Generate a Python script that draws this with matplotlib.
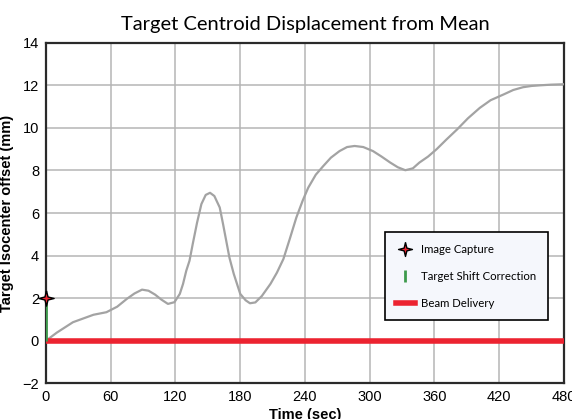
import numpy as np
import matplotlib.pyplot as plt
from matplotlib.lines import Line2D

# values
time_s = [0, 10, 25, 44, 56, 66, 75, 82, 89, 95, 101, 107, 113, 119, 124, 127, 130,
          133, 136, 140, 144, 148, 152, 156, 161, 164, 167, 170, 174, 180, 185, 189,
          194, 200, 208, 214, 220, 226, 232, 238, 243, 250, 257, 264, 272, 279, 286,
          294, 303, 311, 319, 326, 333, 340, 346, 354, 362, 371, 381, 391, 402, 412,
          424, 433, 442, 450, 458, 468, 480]
offset_mm = [0, 0.38, 0.87, 1.22, 1.34, 1.6, 1.97, 2.22, 2.40, 2.35, 2.17, 1.93, 1.73, 1.81,
             2.2, 2.67, 3.29, 3.76, 4.55, 5.55, 6.42, 6.85, 6.95, 6.8, 6.26, 5.5, 4.70,
             3.9, 3.14, 2.2, 1.9, 1.76, 1.8, 2.1, 2.67, 3.2, 3.84, 4.8, 5.79, 6.6, 7.19,
             7.8, 8.21, 8.6, 8.91, 9.1, 9.15, 9.1, 8.91, 8.65, 8.37, 8.15, 8.01, 8.1,
             8.37, 8.65, 9.0, 9.45, 9.93, 10.45, 10.94, 11.3, 11.57, 11.78, 11.91, 11.97,
             12.0, 12.03, 12.05]

capture_t, capture_y = [0], [2]
shift_t, shift_y0, shift_y1 = [0], [0], [2]
beam_t = [0, 480]
beam_y = [0, 0]

x_ticks = [0, 60, 120, 180, 240, 300, 360, 420, 480]
y_ticks = [-2, 0, 2, 4, 6, 8, 10, 12, 14]

plt.rcParams['font.family'] = ['Liberation Sans Narrow', 'Liberation Sans', 'DejaVu Sans']

fig = plt.figure(figsize=(5.72, 4.19), dpi=100)
ax = fig.add_axes([0.0804, 0.0852, 0.9056, 0.8128])

ax.plot(time_s, offset_mm, color='#a3a3a3', lw=1.6, zorder=3, solid_joinstyle='round')
ax.plot(beam_t, beam_y, color='#ec2330', lw=4, solid_capstyle='butt', zorder=4)
ax.vlines(shift_t, shift_y0, shift_y1, color='#3d9a4c', lw=2, zorder=4)
star = [(0, 1), (0.2, 0.2), (1, 0), (0.2, -0.2), (0, -1), (-0.2, -0.2), (-1, 0), (-0.2, 0.2), (0, 1)]
ax.plot(capture_t, capture_y, ls='none', marker=star, ms=11, mfc='#ec2330', mec='black',
        mew=1, zorder=6, clip_on=False)

ax.set_xlim(0, 480)
ax.set_ylim(-2, 14)
ax.set_xticks(x_ticks)
ax.set_yticks(y_ticks)
ax.tick_params(length=0, labelsize=10.5, pad=5)
ax.grid(True, color='#b5b5b5', lw=1.1)
ax.set_axisbelow(True)
for s in ax.spines.values():
    s.set_color('#2a2a2a')
    s.set_linewidth(1.6)

ax.set_title('Target Centroid Displacement from Mean', fontsize=14.5, pad=9,
             family=['Lato', 'DejaVu Sans'])
ax.set_xlabel('Time (sec)', fontsize=10.5, fontweight='bold', labelpad=3)
ax.set_ylabel('Target Isocenter offset (mm)', fontsize=10.5, fontweight='bold', labelpad=6)

handles = [
    Line2D([], [], ls='none', marker=star, ms=10, mfc='#ec2330', mec='black', mew=1),
    Line2D([], [], ls='none', marker='|', ms=8, mew=2, color='#3d9a4c'),
    Line2D([], [], color='#ec2330', lw=4),
]
labels = ['Image Capture', 'Target Shift Correction', 'Beam Delivery']
leg = ax.legend(handles, labels, loc='lower right', bbox_to_anchor=(0.969, 0.186),
                frameon=True, fancybox=False, handlelength=1.6, handletextpad=0.6,
                labelspacing=1.4, borderpad=1.0, borderaxespad=0,
                prop={'family': ['Lato', 'DejaVu Sans'], 'size': 8.2})
leg.get_frame().set_facecolor('#f5f7fc')
leg.get_frame().set_edgecolor('black')
leg.get_frame().set_alpha(1)
leg.get_frame().set_linewidth(1.2)

fig.savefig('out.png', dpi=100)
